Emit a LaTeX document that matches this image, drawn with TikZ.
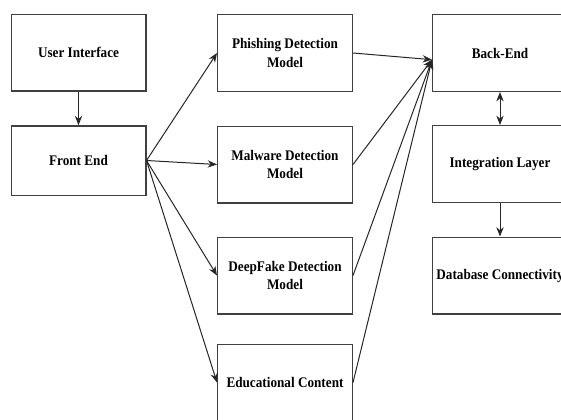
\documentclass[tikz,border=0pt]{standalone}
\usepackage{fontspec}
\setmainfont{Liberation Serif}[FakeStretch=0.9]
\usetikzlibrary{arrows.meta}

\begin{document}
\begin{tikzpicture}[x=0.75pt, y=-0.75pt, >={Stealth[length=7pt,width=5.5pt]},
    block/.style={draw=black!75, line width=1pt, minimum width=101pt, minimum height=57.5pt,
      align=center, font=\bfseries\fontsize{11}{14}\selectfont},
    link/.style={draw=black!85, line width=0.75pt}]
        \useasboundingbox (0, 0) rectangle (561, 419);
        \node[block] (ui) at (78.5, 52.5) {User Interface};
        \node[block, minimum height=52pt] (fe) at (78.5, 160.5) {Front End};
        \node[block] (phish) at (285, 53) {Phishing Detection\\Model};
        \node[block] (malw) at (285, 164.5) {Malware Detection\\Model};
        \node[block] (deep) at (285, 275.5) {DeepFake Detection\\Model};
        \node[block] (edu) at (285, 382.5) {Educational Content};
        \node[block] (back) at (500, 53) {Back-End};
        \node[block] (integ) at (500, 164) {Integration Layer};
        \node[block, inner sep=1pt] (db) at (500, 275.5) {Database Connectivity};
        \coordinate (hub) at ([yshift=-5pt]back.west);
        \draw[link, ->] (ui) -- (fe);
        \draw[link, ->] (fe.east) -- (phish.west);
        \draw[link, ->] (fe.east) -- (malw.west);
        \draw[link, ->] (fe.east) -- (deep.west);
        \draw[link, ->] (fe.east) -- (edu.west);
        \draw[link, ->] (phish.east) -- (hub);
        \draw[link, ->] (malw.east) -- (hub);
        \draw[link, ->] (deep.east) -- (hub);
        \draw[link, ->] (edu.east) -- (hub);
        \draw[link, <->] (back) -- (integ);
        \draw[link, ->] (integ) -- (db);
      \end{tikzpicture}
\end{document}
